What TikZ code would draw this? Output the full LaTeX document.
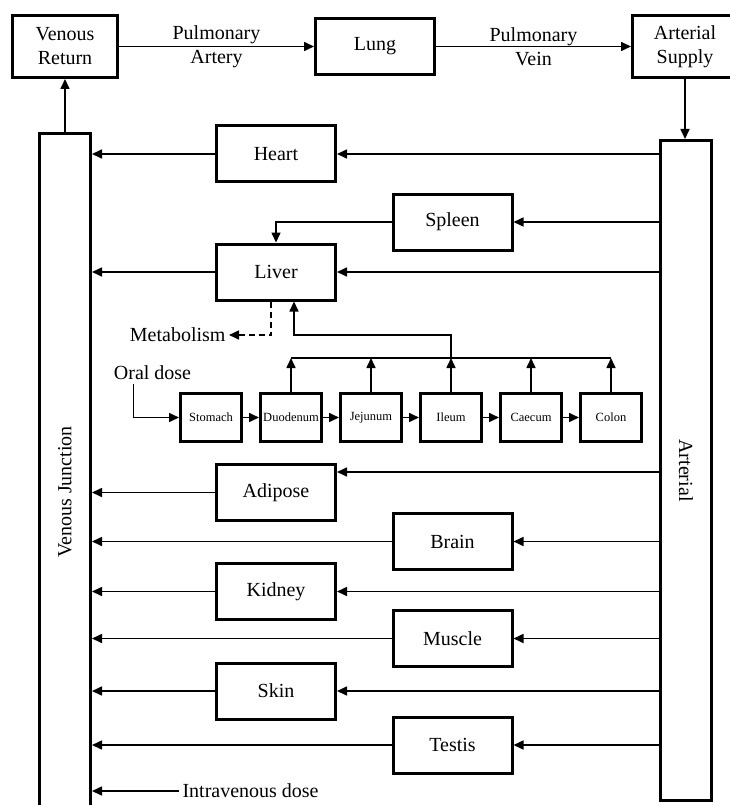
\documentclass[tikz,border=0pt]{standalone}
\usepackage{fontspec}
\setmainfont{Liberation Serif}
\usetikzlibrary{positioning, arrows.meta}

\tikzset{
  box/.style={draw, line width=3pt, minimum width=105pt, minimum height=62pt, align=center},
  organ/.style={draw, line width=3pt, minimum width=119pt, minimum height=56pt},
  gut/.style={draw, line width=3pt, minimum width=61pt, minimum height=48pt, inner sep=1pt, font=\fontsize{12.5}{14}\selectfont},
  trunk/.style={draw, line width=3pt, minimum width=51pt},
  flow/.style={->, line width=1.6pt},
}

\begin{document}
\begin{tikzpicture}[x=1pt, y=1pt, node distance=195pt, >={Triangle[length=10pt,width=9pt]}, font=\fontsize{20}{24}\selectfont]
            \useasboundingbox[fill=white] (0,0) rectangle (729,-805);

            \node[box] (vret) at (65,-46.5) {Venous\\Return};
            \node[organ] (lung) [right=of vret] {Lung};
            \node[box] (asup) [right=of lung] {Arterial\\Supply};

            \node[trunk, minimum height=716pt] (ven) at (65,-492) {\rotatebox{90}{Venous Junction}};
            \node[trunk, minimum height=660pt] (art) at (686,-470.5) {\rotatebox{-90}{Arterial}};

            \node[organ] (heart) at (276,-154) {Heart};
            \node[organ] (spleen) at (452.5,-222) {Spleen};
            \node[organ] (liver) at (276,-272) {Liver};
            \node[organ] (adip) at (276,-492.5) {Adipose};
            \node[organ] (brain) at (452.5,-541.5) {Brain};
            \node[organ] (kidney) at (276,-591.5) {Kidney};
            \node[organ] (muscle) at (452.5,-638.5) {Muscle};
            \node[organ] (skin) at (276,-691) {Skin};
            \node[organ] (testis) at (452.5,-745) {Testis};

            \node[gut] (stom) at (211,-417.5) {Stomach};
            \node[gut] (duod) [right=16pt of stom] {Duodenum};
            \node[gut] (jeju) [right=16pt of duod] {Jejunum};
            \node[gut] (ileum) [right=16pt of jeju] {Ileum};
            \node[gut] (caec) [right=16pt of ileum] {Caecum};
            \node[gut] (colon) [right=16pt of caec] {Colon};

            \node[anchor=east] (metab) at (229,-335) {Metabolism};
            \node (oral) at (152.5,-373) {Oral dose};
            \node[anchor=west] (iv) at (179,-791) {Intravenous dose};
            \coordinate (bus) at (ileum.north |- 0,-358);

            \path[flow]
            (vret) edge node[align=center] {Pulmonary\\Artery} (lung)
            (lung) edge node[align=center] {Pulmonary\\Vein} (asup)
            (ven.north) edge (vret.south)
            (asup.south) edge (asup.south |- art.north)

            (heart -| art.west) edge (heart)
            (spleen -| art.west) edge (spleen)
            (liver -| art.west) edge (liver)
            ([yshift=20.5pt]adip.east -| art.west) edge ([yshift=20.5pt]adip.east)
            (brain -| art.west) edge (brain)
            (kidney -| art.west) edge (kidney)
            (muscle -| art.west) edge (muscle)
            (skin -| art.west) edge (skin)
            (testis -| art.west) edge (testis)

            (heart) edge (heart -| ven.east)
            (liver) edge (liver -| ven.east)
            (adip) edge (adip -| ven.east)
            (brain) edge (brain -| ven.east)
            (kidney) edge (kidney -| ven.east)
            (muscle) edge (muscle -| ven.east)
            (skin) edge (skin -| ven.east)
            (testis) edge (testis -| ven.east)
            (iv) edge (iv -| ven.east)

            (stom) edge (duod)
            (duod) edge (jeju)
            (jeju) edge (ileum)
            (ileum) edge (caec)
            (caec) edge (colon)

            (duod.north) edge (duod.north |- bus)
            (jeju.north) edge (jeju.north |- bus)
            (ileum.north) edge (bus)
            (caec.north) edge (caec.north |- bus)
            (colon.north) edge (colon.north |- bus);

            \draw[line width=1.6pt] (duod.north |- bus) -- (colon.north |- bus);
            \draw[flow] (spleen.west) -| (liver.north);
            \draw[flow] (bus) |- ([xshift=18pt]liver.south |- metab.east) -- ([xshift=18pt]liver.south);
            \draw[flow, dash pattern=on 6pt off 4pt] ([xshift=-5pt]liver.south) |- (metab.east);
            \draw[flow] ([xshift=-19pt]oral.south) |- (stom.west);
        \end{tikzpicture}
\end{document}
